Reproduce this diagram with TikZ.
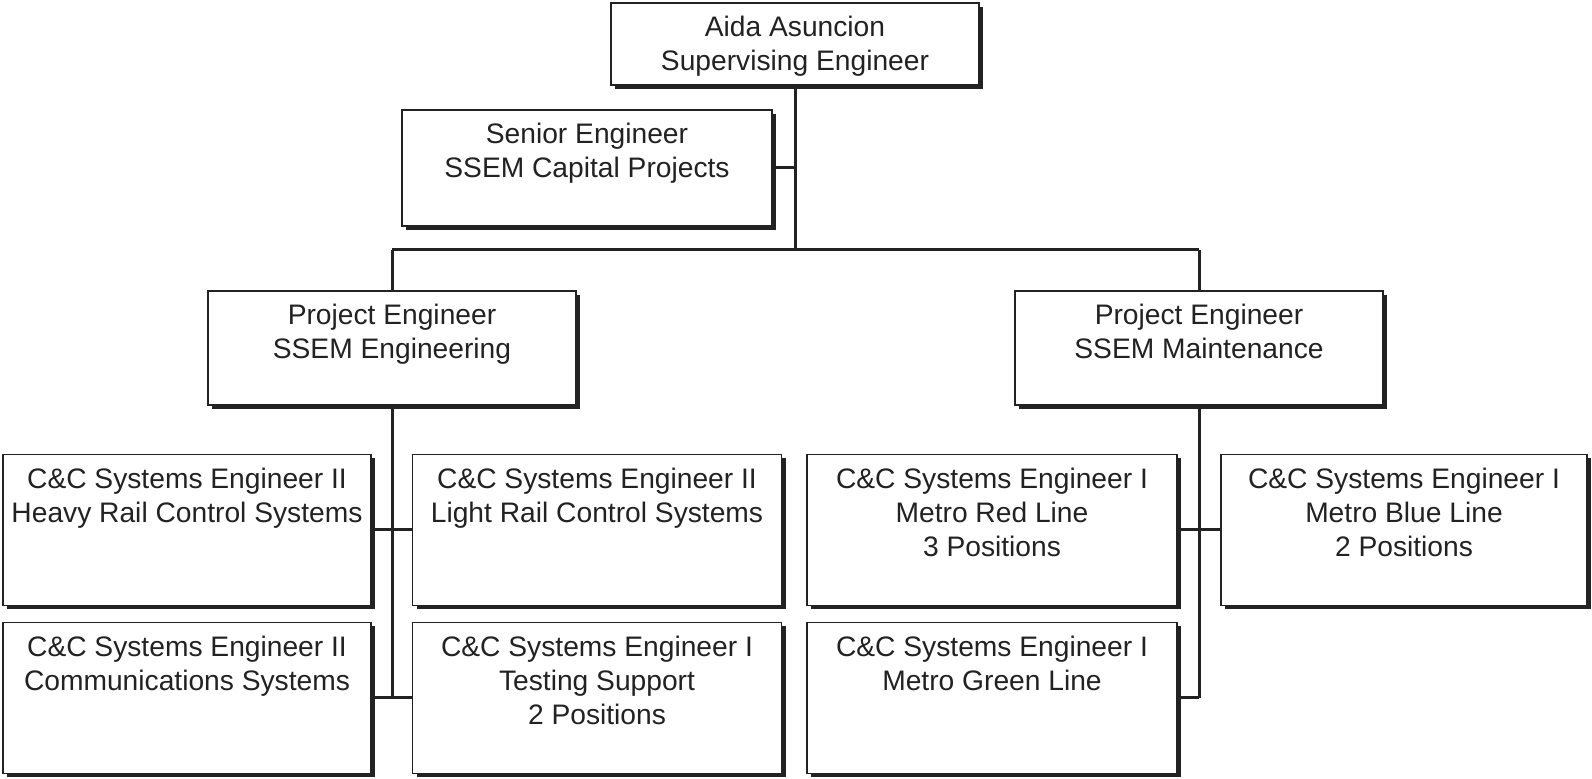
\documentclass[tikz,border=0pt]{standalone}
\usepackage{fontspec}
\setmainfont{Liberation Sans}
\usetikzlibrary{shadows,calc}
\definecolor{ink}{HTML}{222222}
\tikzset{
  orgbox/.style={draw=ink, line width=0.7pt, fill=white, inner sep=0pt, outer sep=0pt,
    drop shadow={shadow xshift=2pt, shadow yshift=-2pt, opacity=1, fill=ink}},
  lbl/.style={anchor=north, align=center, inner sep=0pt, text=ink,
    font=\fontsize{14.1}{17}\selectfont},
  conn/.style={draw=ink, line width=1.5pt}
}
\newcommand{\orgunit}[7]{%
  \node[orgbox, minimum width={#4*0.5pt}, minimum height={#5*0.5pt}] (#1) at (#2,#3) {};
  \node[lbl] (#1T) at ([yshift=-6.5pt]#1.north) {#6};
}
\begin{document}
\begin{tikzpicture}[x=0.5pt,y=-0.5pt]
\useasboundingbox (0,0) rectangle (1592,779);
% connectors first (boxes drawn over them)
\coordinate (busL) at (392,250);
\coordinate (busR) at (1199,250);
\begin{scope}[on background layer/.style={}]
\end{scope}
% boxes
\orgunit{top}{795}{44}{368}{82}{Aida Asuncion\\Supervising Engineer}{}
\orgunit{senior}{587}{168}{370}{116}{Senior Engineer\\SSEM Capital Projects}{}
\orgunit{pel}{392}{348}{368}{114}{Project Engineer\\SSEM Engineering}{}
\orgunit{per}{1199}{348}{368}{114}{Project Engineer\\SSEM Maintenance}{}
\orgunit{heavy}{187}{530}{368}{151}{C\&C Systems Engineer II\\Heavy Rail Control Systems}{}
\orgunit{light}{597}{530}{369}{151}{C\&C Systems Engineer II\\Light Rail Control Systems}{}
\orgunit{comm}{187}{698}{368}{151}{C\&C Systems Engineer II\\Communications Systems}{}
\orgunit{testing}{597}{698}{369}{151}{C\&C Systems Engineer I\\Testing Support\\2 Positions}{}
\orgunit{red}{992}{530}{370}{151}{C\&C Systems Engineer I\\Metro Red Line\\3 Positions}{}
\orgunit{blue}{1404}{530}{366}{151}{C\&C Systems Engineer I\\Metro Blue Line\\2 Positions}{}
\orgunit{green}{992}{698}{370}{151}{C\&C Systems Engineer I\\Metro Green Line}{}
% connectors
\draw[conn] (top.south) -- (top.south |- busL);
\draw[conn] (senior.east) -- (senior.east -| top.south);
\draw[conn] (busL) -- (busR);
\draw[conn] (busL) -- (pel.north);
\draw[conn] (busR) -- (per.north);
\draw[conn] (pel.south) -- (pel.south |- comm.east);
\draw[conn] (heavy.east) -- (light.west);
\draw[conn] (comm.east) -- (testing.west);
\draw[conn] (per.south) -- (per.south |- green.east);
\draw[conn] (red.east) -- (blue.west);
\draw[conn] (green.east) -- (green.east -| per.south);
\end{tikzpicture}
\end{document}
